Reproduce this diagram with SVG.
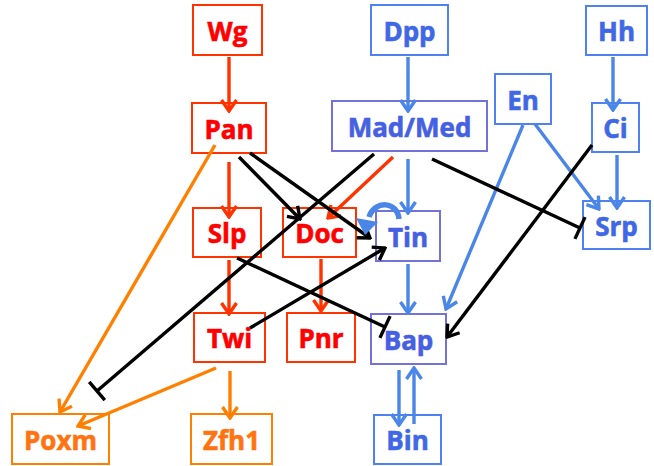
<svg xmlns="http://www.w3.org/2000/svg" width="654" height="466" viewBox="0 0 654 466">
<style>
  .box { fill: #ffffff; stroke-width: 2; }
  .red rect { stroke: #FF3300; }
  .red text { fill: #FF0000; stroke: #FF0000; }
  .blue rect { stroke: #4F82F0; }
  .blue text { fill: #3F68E6; stroke: #3F68E6; }
  .purple rect { stroke: #7272D8; }
  .purple text { fill: #4560E2; stroke: #4560E2; }
  .orange rect { stroke: #FF8000; }
  .orange text { fill: #FF7410; stroke: #FF7410; }
  text { font-family: "Open Sans", "Liberation Sans", sans-serif; font-weight: 700; font-size: 26px; text-anchor: middle; stroke-width: 0.6; }
  .e { fill: none; stroke-width: 3.4; }
  .er { stroke: #FF3300; marker-end: url(#ar-red); }
  .eo { stroke: #FF8000; marker-end: url(#ar-orange); }
  .eb { stroke: #4A86E8; marker-end: url(#ar-blue); }
  .ek { stroke: #000000; marker-end: url(#ar-black); }
  .et { stroke: #000000; marker-end: url(#tee); }
</style>
<defs>
  <marker id="ar-red" markerUnits="userSpaceOnUse" viewBox="-14 -10 16 20" refX="0" refY="0" markerWidth="16" markerHeight="20" orient="auto">
    <path d="M-11,-7.5 L0,0 L-11,7.5" fill="none" stroke="#FF3300" stroke-width="3.4"/>
  </marker>
  <marker id="ar-orange" markerUnits="userSpaceOnUse" viewBox="-14 -10 16 20" refX="0" refY="0" markerWidth="16" markerHeight="20" orient="auto">
    <path d="M-11,-7.5 L0,0 L-11,7.5" fill="none" stroke="#FF8000" stroke-width="3.4"/>
  </marker>
  <marker id="ar-blue" markerUnits="userSpaceOnUse" viewBox="-14 -10 16 20" refX="0" refY="0" markerWidth="16" markerHeight="20" orient="auto">
    <path d="M-11,-7.5 L0,0 L-11,7.5" fill="none" stroke="#4A86E8" stroke-width="3.4"/>
  </marker>
  <marker id="ar-black" markerUnits="userSpaceOnUse" viewBox="-14 -10 16 20" refX="0" refY="0" markerWidth="16" markerHeight="20" orient="auto">
    <path d="M-11,-7.5 L0,0 L-11,7.5" fill="none" stroke="#000000" stroke-width="3.4"/>
  </marker>
  <marker id="tee" markerUnits="userSpaceOnUse" viewBox="-3 -14 6 28" refX="0" refY="0" markerWidth="6" markerHeight="28" orient="auto">
    <path d="M0,-12 L0,12" fill="none" stroke="#000000" stroke-width="3.4"/>
  </marker>
</defs>

<g id="nodes">
  <g id="Wg" class="red"><rect class="box" x="193" y="5" width="69" height="50"/><text x="227.5" y="41">Wg</text></g>
  <g id="Pan" class="red"><rect class="box" x="192" y="103" width="74" height="50"/><text x="229" y="139">Pan</text></g>
  <g id="Dpp" class="blue"><rect class="box" x="371" y="5" width="77" height="50"/><text x="409.5" y="41">Dpp</text></g>
  <g id="MadMed" class="purple"><rect class="box" x="332" y="101" width="155" height="50"/><text x="409.5" y="137">Mad/Med</text></g>
  <g id="Hh" class="blue"><rect class="box" x="586" y="6" width="61" height="49"/><text x="616.5" y="41">Hh</text></g>
  <g id="En" class="blue"><rect class="box" x="495" y="74" width="56" height="50"/><text x="523" y="110">En</text></g>
  <g id="Ci" class="blue"><rect class="box" x="592" y="103" width="47" height="49"/><text x="615.5" y="138">Ci</text></g>
  <g id="Srp" class="blue"><rect class="box" x="583" y="201" width="67" height="48"/><text x="616.5" y="236">Srp</text></g>
  <g id="Slp" class="red"><rect class="box" x="193" y="208" width="68" height="49"/><text x="227" y="243">Slp</text></g>
  <g id="Doc" class="red"><rect class="box" x="283" y="208" width="73" height="49"/><text x="319.5" y="243">Doc</text></g>
  <g id="Tin" class="purple"><rect class="box" x="376" y="211" width="64" height="50"/><text x="408" y="247">Tin</text></g>
  <g id="Twi" class="red"><rect class="box" x="194" y="313" width="71" height="49"/><text x="229.5" y="348">Twi</text></g>
  <g id="Pnr" class="red"><rect class="box" x="287" y="313" width="68" height="49"/><text x="321" y="348">Pnr</text></g>
  <g id="Bap" class="purple"><rect class="box" x="371" y="314" width="75" height="50"/><text x="408.5" y="350">Bap</text></g>
  <g id="Bin" class="blue"><rect class="box" x="374" y="415" width="67" height="49"/><text x="407.5" y="450">Bin</text></g>
  <g id="Poxm" class="orange"><rect class="box" x="12" y="414" width="97" height="50"/><text x="60.5" y="450">Poxm</text></g>
  <g id="Zfh1" class="orange"><rect class="box" x="191" y="414" width="81" height="50"/><text x="231.5" y="450">Zfh1</text></g>
</g>

<g id="connectors">
  <path class="e er" d="M229,57 L229,111"/>
  <path class="e er" d="M229,162 L229,217"/>
  <path class="e er" d="M229,260 L229,314"/>
  <path class="e er" d="M321,259 L321,311"/>
  <path class="e er" d="M393,157 L328,218"/>
  <path class="e eo" d="M215,145 L60,412"/>
  <path class="e eo" d="M216,368 L78,426"/>
  <path class="e eo" d="M230,371 L230,418"/>
  <path class="e eb" d="M408,57 L408,111"/>
  <path class="e eb" d="M408,159 L408,213"/>
  <path class="e eb" d="M408,264 L408,313"/>
  <path class="e eb" d="M613,57 L613,110"/>
  <path class="e eb" d="M617,155 L617,208"/>
  <path class="e eb" d="M535,124 L599,209"/>
  <path class="e eb" d="M523,125 L446,309"/>
  <path class="e eb" d="M399,370 L399,425"/>
  <path class="e eb" d="M414,424 L414,368"/>
  <path class="e ek" d="M239,157 L300,219"/>
  <path class="e ek" d="M250,153 L370,238"/>
  <path class="e ek" d="M592,145 L447,337"/>
  <path class="e ek" d="M250,328 L385,248"/>
  <path class="e et" d="M374,154 L97,391"/>
  <path class="e et" d="M432,159 L580,228"/>
  <path class="e et" d="M237,258 L385,327"/>
  <g id="Tin-self">
    <path d="M399,219 C398,202 375,199 369,217" fill="none" stroke="#4A86E8" stroke-width="5.5"/>
    <polygon points="356,218 378,222 365,235" fill="#4A86E8"/>
  </g>
</g>
</svg>
